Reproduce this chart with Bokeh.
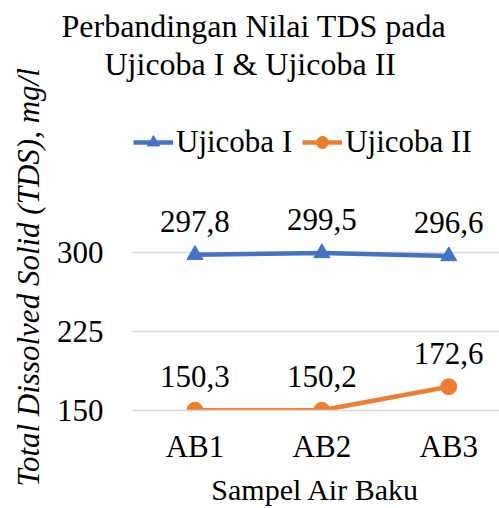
from bokeh.plotting import figure
from bokeh.models import (ColumnDataSource, LabelSet, Legend, LegendItem,
                          FixedTicker, Range1d, Title)
from bokeh.core.properties import value
from bokeh.embed import file_html
from bokeh.resources import INLINE

categories = ["AB1", "AB2", "AB3"]
ujicoba1 = [297.8, 299.5, 296.6]
ujicoba2 = [150.3, 150.2, 172.6]
y_ticks = [150, 225, 300]
series_names = ["Ujicoba I", "Ujicoba II"]
title_lines = ["Perbandingan Nilai TDS pada", "Ujicoba I & Ujicoba II"]
x_title = "Sampel Air Baku"
y_title = "Total Dissolved Solid (TDS), mg/l"

FONT = "Liberation Serif"
BLUE = "#4472C4"
ORANGE = "#ED7D31"
GRID = "#D9D9D9"
TXT = "#000000"
FS = "31px"

xs = list(range(1, len(categories) + 1))


def fmt(v):
    return f"{v:.1f}".replace(".", ",")


p = figure(width=499, height=508, x_range=Range1d(0.5, 3.4), y_range=Range1d(150, 425.3),
           output_backend="svg", toolbar_location=None,
           min_border_left=130, min_border_right=0, min_border_top=120, min_border_bottom=98)
p.outline_line_color = None
p.title.visible = False

src1 = ColumnDataSource(dict(x=xs, y=ujicoba1, label=[fmt(v) for v in ujicoba1]))
src2 = ColumnDataSource(dict(x=xs, y=ujicoba2, label=[fmt(v) for v in ujicoba2]))

l1 = p.line("x", "y", source=src1, line_color=BLUE, line_width=4.5)
m1 = p.scatter("x", "y", source=src1, marker="triangle", size=16, fill_color=BLUE, line_color=BLUE)
l2 = p.line("x", "y", source=src2, line_color=ORANGE, line_width=4.5)
m2 = p.scatter("x", "y", source=src2, marker="circle", size=16, fill_color=ORANGE, line_color=ORANGE)

for src in (src1, src2):
    p.add_layout(LabelSet(x="x", y="y", text="label", source=src, text_align="center",
                          text_baseline="alphabetic", y_offset=23,
                          text_font=value(FONT), text_font_size=value(FS), text_color=TXT))

p.xgrid.visible = False
p.ygrid.ticker = FixedTicker(ticks=y_ticks)
p.ygrid.grid_line_color = GRID
p.ygrid.grid_line_width = 1.5

p.yaxis.ticker = FixedTicker(ticks=y_ticks)
p.yaxis.axis_line_color = None
p.yaxis.major_tick_line_color = None
p.yaxis.minor_tick_line_color = None
p.yaxis.major_tick_out = 0
p.yaxis.major_tick_in = 0
p.yaxis.major_label_standoff = 28
p.yaxis.major_label_text_font = FONT
p.yaxis.major_label_text_font_size = FS
p.yaxis.major_label_text_color = TXT

p.xaxis.ticker = FixedTicker(ticks=xs)
p.xaxis.major_label_overrides = {x: c for x, c in zip(xs, categories)}
p.xaxis.axis_line_color = GRID
p.xaxis.axis_line_width = 1.5
p.xaxis.major_tick_line_color = None
p.xaxis.minor_tick_line_color = None
p.xaxis.major_tick_out = 0
p.xaxis.major_tick_in = 0
p.xaxis.major_label_standoff = 18
p.xaxis.major_label_text_font = FONT
p.xaxis.major_label_text_font_size = FS
p.xaxis.major_label_text_color = TXT
p.xaxis.axis_label = x_title
p.xaxis.axis_label_standoff = 6
p.xaxis.axis_label_text_font = FONT
p.xaxis.axis_label_text_font_size = "30px"
p.xaxis.axis_label_text_font_style = "normal"
p.xaxis.axis_label_text_color = TXT

# y-axis title as a side-panel title (starts near the bottom of the chart)
p.add_layout(Title(text=y_title, align="left", offset=-76, standoff=16,
                   text_font=FONT, text_font_size=FS, text_font_style="italic",
                   text_color=TXT), "left")

legend = Legend(items=[LegendItem(label=series_names[0], renderers=[l1, m1]),
                       LegendItem(label=series_names[1], renderers=[l2, m2])],
                orientation="horizontal", location=(2, 250),
                label_text_font=FONT, label_text_font_size=FS, label_text_color=TXT,
                glyph_width=40, glyph_height=30, label_standoff=3, spacing=10,
                padding=0, margin=0, border_line_color=None, background_fill_alpha=0)
p.add_layout(legend, "center")

# spacer between chart area and the two title lines
p.add_layout(Title(text=" ", align="left", standoff=26, text_font=FONT,
                   text_font_size="10px", text_color=TXT), "above")
p.add_layout(Title(text=title_lines[1], align="left", offset=-27, standoff=0,
                   text_font=FONT, text_font_size="32px", text_font_style="normal",
                   text_color=TXT), "above")
p.add_layout(Title(text=title_lines[0], align="left", offset=-70, standoff=-1,
                   text_font=FONT, text_font_size="32px", text_font_style="normal",
                   text_color=TXT), "above")

open("out.html", "w").write(file_html(p, INLINE))
